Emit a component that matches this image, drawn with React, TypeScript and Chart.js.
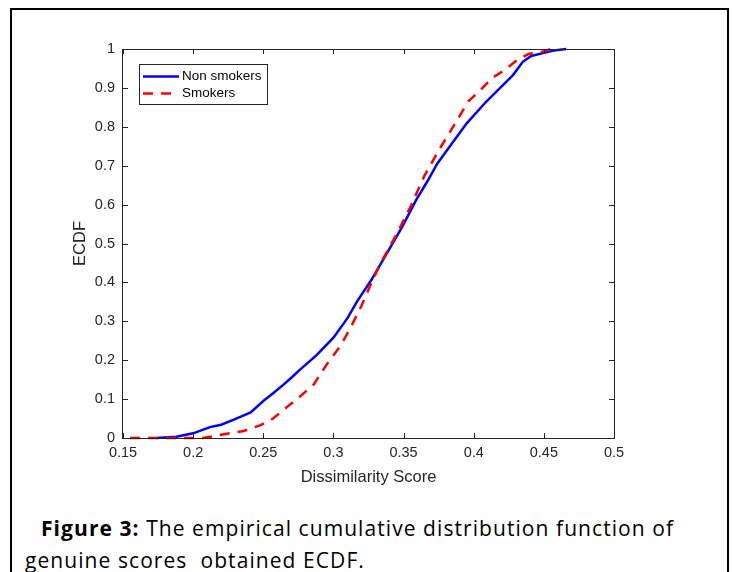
import React, { useEffect, useRef } from "react";
import { Chart, registerables } from "chart.js";

Chart.register(...registerables);

// ---- data ----
const nonSmokersX = [0.174, 0.188, 0.2, 0.212, 0.22, 0.229, 0.234, 0.241, 0.25, 0.257, 0.264, 0.27, 0.276, 0.288, 0.3, 0.31, 0.317, 0.327, 0.336, 0.349, 0.359, 0.367, 0.374, 0.382, 0.395, 0.409, 0.416, 0.428, 0.435, 0.441, 0.45, 0.457, 0.466];
const nonSmokersY = [0, 0.003, 0.012, 0.028, 0.034, 0.047, 0.055, 0.066, 0.095, 0.115, 0.136, 0.155, 0.175, 0.213, 0.258, 0.308, 0.352, 0.406, 0.462, 0.543, 0.612, 0.66, 0.705, 0.745, 0.809, 0.865, 0.89, 0.933, 0.967, 0.982, 0.99, 0.996, 1];
const smokersX = [0.155, 0.207, 0.221, 0.236, 0.248, 0.257, 0.267, 0.276, 0.286, 0.295, 0.305, 0.312, 0.32, 0.327, 0.333, 0.344, 0.355, 0.365, 0.376, 0.389, 0.396, 0.405, 0.413, 0.422, 0.431, 0.439, 0.449, 0.455];
const smokersY = [0, 0, 0.009, 0.018, 0.033, 0.05, 0.08, 0.106, 0.138, 0.188, 0.237, 0.282, 0.34, 0.398, 0.445, 0.517, 0.595, 0.675, 0.745, 0.822, 0.865, 0.895, 0.925, 0.946, 0.972, 0.987, 0.993, 1];

const xTickValues = [0.15, 0.2, 0.25, 0.3, 0.35, 0.4, 0.45, 0.5];
const yTickValues = [0, 0.1, 0.2, 0.3, 0.4, 0.5, 0.6, 0.7, 0.8, 0.9, 1];
const seriesLabels = ["Non smokers", "Smokers"];
const xTitle = "Dissimilarity Score";
const yTitle = "ECDF";
const captionBold = "Figure 3:";
const captionRest = " The empirical cumulative distribution function of";
const captionLine2 = "genuine scores  obtained ECDF.";

const FONT = '"Liberation Sans", Arial, Helvetica, sans-serif';
const AXIS_COLOR = "#262626";
const BLUE = "#0000ff";
const RED = "#ff0000";
const RED_DASH = [10, 8];

const fmt = (v: number) => String(Math.round(v * 1000) / 1000);

const decorPlugin = {
  id: "matlabDecor",
  afterDraw(chart: any) {
    const { ctx, chartArea } = chart;
    const { left, top, right, bottom } = chartArea;
    const xs = chart.scales.x;
    const ys = chart.scales.y;
    ctx.save();
    // frame
    ctx.strokeStyle = AXIS_COLOR;
    ctx.lineWidth = 1;
    ctx.setLineDash([]);
    ctx.strokeRect(Math.round(left) - 0.5, Math.round(top) + 0.5, Math.round(right - left) + 1, Math.round(bottom - top));
    // inner ticks
    const tl = 5;
    ctx.beginPath();
    xTickValues.forEach((v) => {
      const px = Math.round(xs.getPixelForValue(v)) + 0.5;
      ctx.moveTo(px, bottom);
      ctx.lineTo(px, bottom - tl);
      ctx.moveTo(px, top);
      ctx.lineTo(px, top + tl);
    });
    yTickValues.forEach((v) => {
      const py = Math.round(ys.getPixelForValue(v)) + 0.5;
      ctx.moveTo(left, py);
      ctx.lineTo(left + tl, py);
      ctx.moveTo(right, py);
      ctx.lineTo(right - tl, py);
    });
    ctx.stroke();
    // axis titles
    ctx.fillStyle = AXIS_COLOR;
    ctx.font = `16.5px ${FONT}`;
    ctx.textAlign = "center";
    ctx.textBaseline = "middle";
    ctx.fillText(xTitle, (left + right) / 2, bottom + 39);
    ctx.save();
    ctx.translate(left - 43, (top + bottom) / 2);
    ctx.rotate(-Math.PI / 2);
    ctx.fillText(yTitle, 0, 0);
    ctx.restore();
    // legend
    const lx = left + 16;
    const ly = top + 15;
    const lw = 128;
    const lh = 40;
    ctx.fillStyle = "#ffffff";
    ctx.fillRect(lx, ly, lw, lh);
    ctx.strokeStyle = AXIS_COLOR;
    ctx.lineWidth = 1;
    ctx.strokeRect(lx + 0.5, ly + 0.5, lw, lh);
    const rows = [
      { label: seriesLabels[0], color: BLUE, dash: [] as number[], y: ly + 12.5 },
      { label: seriesLabels[1], color: RED, dash: RED_DASH, y: ly + 29.5 },
    ];
    rows.forEach((r) => {
      ctx.beginPath();
      ctx.strokeStyle = r.color;
      ctx.lineWidth = 2.5;
      ctx.setLineDash(r.dash);
      ctx.moveTo(lx + 4, r.y);
      ctx.lineTo(lx + 40, r.y);
      ctx.stroke();
      ctx.setLineDash([]);
      ctx.fillStyle = "#000000";
      ctx.font = `13.5px ${FONT}`;
      ctx.textAlign = "left";
      ctx.textBaseline = "middle";
      ctx.fillText(r.label, lx + 43, r.y);
    });
    ctx.restore();
  },
};

export default function App() {
  const canvasRef = useRef<HTMLCanvasElement | null>(null);

  useEffect(() => {
    if (!canvasRef.current) return;
    const chart = new Chart(canvasRef.current, {
      type: "scatter",
      data: {
        datasets: [
          {
            label: seriesLabels[0],
            data: nonSmokersX.map((x, i) => ({ x, y: nonSmokersY[i] })),
            showLine: true,
            borderColor: BLUE,
            backgroundColor: BLUE,
            borderWidth: 2.5,
            pointRadius: 0,
            tension: 0,
            order: 1,
            clip: false,
          } as any,
          {
            label: seriesLabels[1],
            data: smokersX.map((x, i) => ({ x, y: smokersY[i] })),
            showLine: true,
            borderColor: RED,
            backgroundColor: RED,
            borderWidth: 2.5,
            borderDash: RED_DASH,
            pointRadius: 0,
            tension: 0,
            order: 0,
            clip: false,
          } as any,
        ],
      },
      options: {
        animation: false,
        responsive: false,
        maintainAspectRatio: false,
        devicePixelRatio: 1,
        layout: { padding: { left: 0, top: 49, right: 118, bottom: 0 } },
        plugins: {
          legend: { display: false },
          tooltip: { enabled: false },
        },
        scales: {
          x: {
            type: "linear",
            min: 0.15,
            max: 0.5,
            afterBuildTicks: (s: any) => {
              s.ticks = xTickValues.map((v) => ({ value: v }));
            },
            afterFit: (s: any) => {
              s.height = 62;
            },
            ticks: {
              callback: (v: any) => fmt(Number(v)),
              font: { family: FONT, size: 14.5 },
              color: AXIS_COLOR,
              padding: 6,
              maxRotation: 0,
              autoSkip: false,
            },
            grid: { display: false, drawTicks: false },
            border: { display: false },
          },
          y: {
            type: "linear",
            min: 0,
            max: 1,
            afterBuildTicks: (s: any) => {
              s.ticks = yTickValues.map((v) => ({ value: v }));
            },
            afterFit: (s: any) => {
              s.width = 123;
            },
            ticks: {
              callback: (v: any) => fmt(Number(v)),
              font: { family: FONT, size: 14.5 },
              color: AXIS_COLOR,
              padding: 8,
              autoSkip: false,
            },
            grid: { display: false, drawTicks: false },
            border: { display: false },
          },
        },
      } as any,
      plugins: [decorPlugin],
    });
    return () => chart.destroy();
  }, []);

  return (
    <div style={{ position: "absolute", left: 0, top: 0, width: 732, height: 572, overflow: "hidden", background: "#fff" }}>
      <div
        style={{
          position: "absolute",
          left: 10,
          top: 8,
          width: 715,
          height: 620,
          border: "2px solid #000",
          boxSizing: "content-box",
        }}
      />
      <canvas
        ref={canvasRef}
        width={732}
        height={500}
        style={{ position: "absolute", left: 0, top: 0, width: 732, height: 500, display: "block" }}
      />
      <div
        style={{
          position: "absolute",
          left: 25,
          top: 512,
          width: 703,
          fontFamily: '"Open Sans", "Noto Sans", sans-serif',
          fontSize: 21,
          letterSpacing: 1.07,
          lineHeight: "32px",
          color: "#000",
          whiteSpace: "pre",
        }}
      >
        <div style={{ textIndent: 16 }}>
          <b>{captionBold}</b>
          {captionRest}
        </div>
        <div>{captionLine2}</div>
      </div>
    </div>
  );
}
